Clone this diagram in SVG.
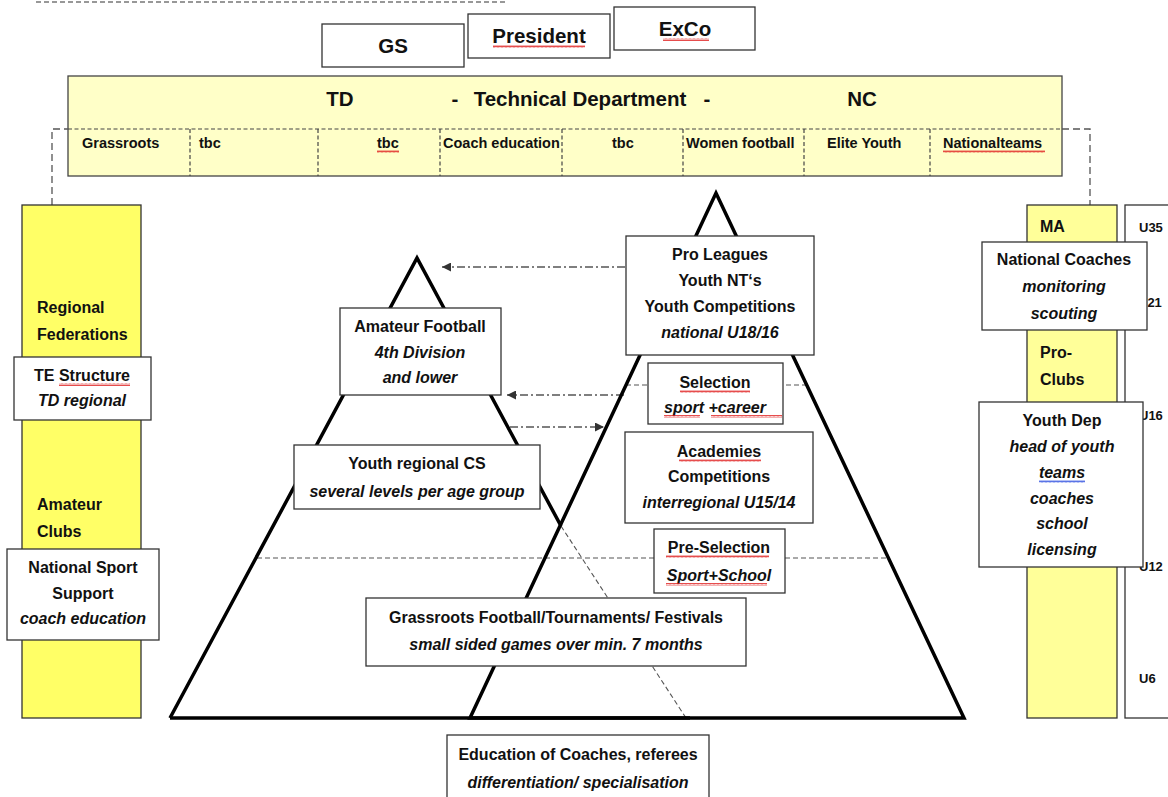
<svg xmlns="http://www.w3.org/2000/svg" width="1168" height="797" viewBox="0 0 1168 797">
<defs>
<style>
.t{font-family:"Liberation Sans",Arial,sans-serif;font-weight:bold;font-size:16px;fill:#111;text-anchor:middle}
.l{text-anchor:start}
.i{font-style:italic}
.big{font-size:20.5px}
.col{font-size:16px}
.sub{font-size:14.5px}
.age{font-size:13px}
.box{fill:#fff;stroke:#333;stroke-width:1.3}
.dash{fill:none;stroke:#444;stroke-width:1.2;stroke-dasharray:4 2.5}
.conn{fill:none;stroke:#555;stroke-width:1.3;stroke-dasharray:7 4}
.dd{fill:none;stroke:#555;stroke-width:1.3;stroke-dasharray:8 3 2 3}
.thin{fill:none;stroke:#555;stroke-width:1.1;stroke-dasharray:5 3}
.pyr{fill:none;stroke:#000;stroke-width:3.5;stroke-linejoin:miter}
</style>
<pattern id="wr" width="4" height="3" patternUnits="userSpaceOnUse"><path d="M0,2.5 L1,0.5 L2,2.5 L3,0.5 L4,2.5" fill="none" stroke="#e02020" stroke-width="0.8"/></pattern>
<pattern id="wb" width="4" height="3" patternUnits="userSpaceOnUse"><path d="M0,2.5 L1,0.5 L2,2.5 L3,0.5 L4,2.5" fill="none" stroke="#3050e0" stroke-width="0.8"/></pattern>
<marker id="ah" viewBox="0 0 10 10" refX="10" refY="5" markerWidth="9" markerHeight="9" orient="auto" markerUnits="userSpaceOnUse"><path d="M0,0 L10,5 L0,10 z" fill="#333"/></marker>
</defs>
<rect width="1168" height="797" fill="#fff"/>

<line x1="36" y1="2" x2="505" y2="2" stroke="#333" stroke-width="1.2" stroke-dasharray="5 3"/>

<g id="gs"><rect class="box" x="322" y="24" width="142" height="43"/><text class="t big" x="393" y="53">GS</text></g>
<g id="president"><rect class="box" x="468" y="14" width="142" height="44"/><text class="t big" x="539" y="43">President</text><rect x="493" y="45" width="92" height="3" fill="url(#wr)"/></g>
<g id="exco"><rect class="box" x="614" y="7" width="141" height="43"/><text class="t big" x="685" y="36">ExCo</text><rect x="663" y="38" width="46" height="3" fill="url(#wr)"/></g>

<g id="td">
<rect x="68" y="76" width="994" height="100" fill="#FFFFC8" stroke="#444" stroke-width="1.3"/>
<text class="t big" x="340" y="106">TD</text>
<text class="t big" x="455" y="106">-</text>
<text class="t big" x="580" y="106">Technical Department</text>
<text class="t big" x="707" y="106">-</text>
<text class="t big" x="862" y="106">NC</text>
<line class="dash" x1="68" y1="129" x2="1062" y2="129"/>
<path class="dash" d="M190,129V176M318,129V176M440,129V176M562,129V176M683,129V176M804,129V176M930,129V176"/>
<text class="t sub l" x="82" y="148">Grassroots</text>
<text class="t sub l" x="199" y="148">tbc</text>
<text class="t sub l" x="377" y="148">tbc</text>
<rect x="377" y="150" width="22" height="3" fill="url(#wr)"/>
<text class="t sub l" x="443" y="148">Coach education</text>
<text class="t sub l" x="612" y="148">tbc</text>
<text class="t sub l" x="686" y="148">Women football</text>
<text class="t sub l" x="827" y="148">Elite Youth</text>
<text class="t sub l" x="943" y="148">Nationalteams</text>
<rect x="943" y="150" width="102" height="3" fill="url(#wr)"/>
</g>

<g id="connectors">
<path class="conn" d="M52,205V129H68"/>
<path class="conn" d="M1062,129H1090V205"/>
<line class="dd" x1="625" y1="267" x2="442" y2="267" marker-end="url(#ah)"/>
<line class="dd" x1="624" y1="395" x2="507" y2="395" marker-end="url(#ah)"/>
<line class="dd" x1="510" y1="427" x2="604" y2="427" marker-end="url(#ah)"/>
</g>

<g id="left-column">
<rect x="22" y="205" width="119" height="513" fill="#FFFF66" stroke="#333" stroke-width="1.3"/>
<text class="t col l" x="37" y="313">Regional</text>
<text class="t col l" x="37" y="340">Federations</text>
<text class="t col l" x="37" y="510">Amateur</text>
<text class="t col l" x="37" y="537">Clubs</text>
</g>
<g id="te-structure"><rect class="box" x="14" y="357" width="137" height="63"/><text class="t" x="82" y="381">TE Structure</text><rect x="59" y="383" width="71" height="3" fill="url(#wr)"/><text class="t i" x="82" y="406">TD regional</text></g>
<g id="national-sport"><rect class="box" x="7" y="549" width="152" height="91"/><text class="t" x="83" y="573">National Sport</text><text class="t" x="83" y="599">Support</text><text class="t i" x="83" y="624">coach education</text></g>

<g id="right-column">
<rect x="1027" y="205" width="90" height="513" fill="#FFFF99" stroke="#333" stroke-width="1.3"/>
<text class="t col l" x="1040" y="232">MA</text>
<text class="t col l" x="1040" y="358">Pro-</text>
<text class="t col l" x="1040" y="385">Clubs</text>
</g>
<g id="ages">
<rect x="1125" y="205" width="50" height="513" fill="#fff" stroke="#333" stroke-width="1.3"/>
<text class="t age l" x="1139" y="232">U35</text>
<text class="t age l" x="1138" y="307">U21</text>
<text class="t age l" x="1139" y="420">U16</text>
<text class="t age l" x="1139" y="571">U12</text>
<text class="t age l" x="1139" y="683">U6</text>
</g>
<g id="national-coaches"><rect class="box" x="982" y="242" width="165" height="88"/><text class="t" x="1064" y="265">National Coaches</text><text class="t i" x="1064" y="292">monitoring</text><text class="t i" x="1064" y="319">scouting</text></g>
<g id="youth-dep"><rect class="box" x="979" y="402" width="164" height="165"/>
<text class="t" x="1062" y="426">Youth Dep</text>
<text class="t i" x="1062" y="452">head of youth</text>
<text class="t i" x="1062" y="478">teams</text><rect x="1039" y="480" width="46" height="3" fill="url(#wb)"/>
<text class="t i" x="1062" y="504">coaches</text>
<text class="t i" x="1062" y="529">school</text>
<text class="t i" x="1062" y="555">licensing</text></g>

<g id="pyramids">
<line class="thin" x1="257" y1="558" x2="888" y2="558"/>
<line class="thin" x1="626" y1="385" x2="806" y2="385"/>
<line class="thin" x1="561" y1="526" x2="686" y2="718"/>
<path class="pyr" d="M170,718L417,258L561,526"/>
<line class="pyr" x1="170" y1="718" x2="690" y2="718"/>
<path class="pyr" d="M470,718L716,193L964,718Z"/>
</g>

<g id="amateur-football"><rect class="box" x="340" y="308" width="161" height="87"/><text class="t" x="420" y="332">Amateur Football</text><text class="t i" x="420" y="358">4th Division</text><text class="t i" x="420" y="383">and lower</text></g>
<g id="pro-leagues"><rect class="box" x="626" y="236" width="188" height="119"/><text class="t" x="720" y="260">Pro Leagues</text><text class="t" x="720" y="286">Youth NT‘s</text><text class="t" x="720" y="312">Youth Competitions</text><text class="t i" x="720" y="338">national U18/16</text></g>
<g id="selection"><rect class="box" x="648" y="363" width="135" height="61"/><text class="t" x="715" y="388">Selection</text><rect x="680" y="390" width="70" height="3" fill="url(#wr)"/><text class="t i" x="715" y="413">sport +career</text><rect x="664" y="415" width="36" height="3" fill="url(#wr)"/><rect x="711" y="415" width="71" height="3" fill="url(#wr)"/></g>
<g id="academies"><rect class="box" x="625" y="432" width="188" height="91"/><text class="t" x="719" y="457">Academies</text><rect x="679" y="459" width="82" height="3" fill="url(#wr)"/><text class="t" x="719" y="482">Competitions</text><text class="t i" x="719" y="508">interregional U15/14</text></g>
<g id="pre-selection"><rect class="box" x="654" y="529" width="131" height="64"/><text class="t" x="719" y="553">Pre-Selection</text><rect x="666" y="555" width="103" height="3" fill="url(#wr)"/><text class="t i" x="719" y="581">Sport+School</text><rect x="666" y="583" width="101" height="3" fill="url(#wr)"/></g>
<g id="youth-regional"><rect class="box" x="294" y="445" width="246" height="64"/><text class="t" x="417" y="469">Youth regional CS</text><text class="t i" x="417" y="497">several levels per age group</text></g>
<g id="grassroots"><rect class="box" x="366" y="598" width="380" height="68"/><text class="t" x="556" y="623">Grassroots Football/Tournaments/ Festivals</text><text class="t i" x="556" y="650">small sided games over min. 7 months</text></g>
<g id="education"><rect class="box" x="447" y="735" width="262" height="70"/><text class="t" x="578" y="760">Education of Coaches, referees</text><text class="t i" x="578" y="788">differentiation/ specialisation</text></g>
</svg>
